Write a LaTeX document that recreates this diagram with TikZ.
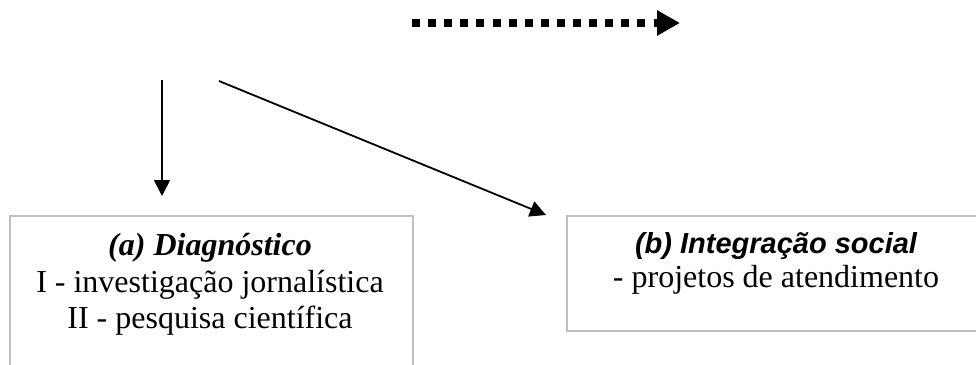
\documentclass[tikz,border=0pt]{standalone}
\usepackage{fontspec}
\setmainfont{Liberation Serif}
\newfontfamily\arialfont{Liberation Sans}
\usetikzlibrary{arrows.meta}
\definecolor{boxgrey}{HTML}{C0C0C0}
\begin{document}
\begin{tikzpicture}[x=1pt,y=-1pt,
  boxstyle/.style={draw=boxgrey, line width=1.6pt, anchor=north west, inner sep=0pt},
  txt/.style={anchor=base, inner sep=0pt, font=\fontsize{32}{36}\selectfont},
  txtb/.style={anchor=base, inner sep=0pt, font=\arialfont\fontsize{29}{34}\selectfont\bfseries\itshape},
  thinarrow/.style={line width=1.8pt, -{Triangle[length=16pt,width=16pt]}},
  dotarrow/.style={line width=7.5pt, dash pattern=on 8pt off 8.1pt, -{Triangle[length=23pt,width=24pt]}}]
\useasboundingbox (0,0) rectangle (976,364);
% boxes
\node[boxstyle, minimum width=403pt, minimum height=170pt] (boxA) at (9,215) {};
\node[boxstyle, minimum width=420pt, minimum height=115pt] (boxB) at (566,215) {};
% texts
\node[txt] (a1) at (210,255) {\textbf{\textit{(a) Diagnóstico}}};
\node[txt] (a2) at (210,292) {I - investigação jornalística};
\node[txt] (a3) at (210,328) {II - pesquisa científica};
\node[txtb] (b1) at (776,253) {(b) Integração social};
\node[txt] (b2) at (776,287) {- projetos de atendimento};
% arrow ends
\coordinate (d1) at (412,23);
\coordinate (d2) at (680,23);
\coordinate (v1) at (162,80);
\coordinate (v2) at (162,196);
\coordinate (s1) at (219,81);
\coordinate (s2) at (546,215);
\draw[dotarrow] (d1) -- (d2);
\draw[thinarrow] (v1) -- (v2);
\draw[thinarrow] (s1) -- (s2);
\end{tikzpicture}
\end{document}
